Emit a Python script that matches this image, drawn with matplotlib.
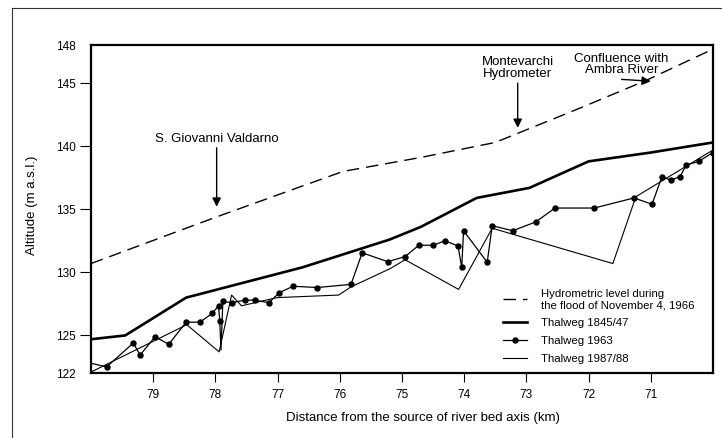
import matplotlib
matplotlib.use("Agg")
import matplotlib.pyplot as plt
from matplotlib.lines import Line2D

plt.rcParams['font.family'] = ['Liberation Sans', 'DejaVu Sans']

# river profile of the Arno between S. Giovanni Valdarno and the Ambra confluence
# distance from the source (km) / altitude (m a.s.l.)
flood_km = [80.0, 77.98, 75.95, 74.71, 73.5, 73.15, 72.1, 71.06, 70.0]
flood_alt = [130.7, 134.4, 138.0, 139.1, 140.3, 141.0, 143.1, 145.25, 147.7]

t1845_km = [80.0, 79.45, 78.47, 76.6, 75.2, 74.7, 73.8, 72.95, 72.0, 71.0, 70.0]
t1845_alt = [124.7, 125.0, 128.0, 130.4, 132.6, 133.6, 135.9, 136.7, 138.8, 139.5, 140.3]

t1963_km = [80.0, 79.75, 79.32, 79.21, 78.97, 78.75, 78.47, 78.25, 78.05, 77.95,
            77.93, 77.91, 77.88, 77.74, 77.52, 77.37, 77.14, 76.97, 76.75, 76.36,
            75.82, 75.64, 75.23, 74.95, 74.73, 74.50, 74.31, 74.10, 74.04, 74.01,
            73.63, 73.55, 73.22, 72.85, 72.54, 71.91, 71.27, 70.98, 70.82, 70.68,
            70.53, 70.43, 70.23, 70.0]
t1963_alt = [122.8, 122.5, 124.4, 123.45, 124.9, 124.3, 126.05, 126.05, 126.75, 127.35,
             126.15, 123.85, 127.7, 127.6, 127.8, 127.8, 127.6, 128.4, 128.9, 128.8,
             129.05, 131.55, 130.85, 131.25, 132.15, 132.15, 132.5, 132.1, 130.4, 133.3,
             130.8, 133.7, 133.3, 134.0, 135.1, 135.1, 135.9, 135.4, 137.6, 137.3,
             137.6, 138.5, 138.8, 139.5]

t1987_km = [80.0, 78.46, 77.94, 77.74, 77.58, 77.01, 76.02, 75.82, 75.19, 74.95,
            74.09, 73.55, 71.61, 71.24, 70.0]
t1987_alt = [122.1, 125.85, 123.7, 128.2, 127.35, 128.0, 128.2, 128.85, 130.3, 131.0,
             128.65, 133.5, 130.7, 136.0, 139.7]

x_ticks = [79, 78, 77, 76, 75, 74, 73, 72, 71]
y_ticks = [122, 125, 130, 135, 140, 145, 148]

W, H = 722, 438
fig = plt.figure(figsize=(W / 100, H / 100), dpi=100)

# outer frame of the original figure (cropped on the right and bottom)
fig.add_artist(Line2D([12 / W, 12 / W], [0, 1 - 8 / H], color='#333333', lw=0.8,
                      transform=fig.transFigure))
fig.add_artist(Line2D([12 / W, 1], [1 - 8 / H, 1 - 8 / H], color='#333333', lw=0.8,
                      transform=fig.transFigure))

ax = fig.add_axes([91 / W, 1 - 373.3 / H, (713 - 91) / W, (373.3 - 45.3) / H])

ax.plot(flood_km, flood_alt, color='black', lw=1.0, dashes=(9, 5),
        label='Hydrometric level during\nthe flood of November 4, 1966')
ax.plot(t1845_km, t1845_alt, color='black', lw=1.9, label='Thalweg 1845/47')
dots = [i for i in range(len(t1963_km)) if i not in (0, 11)]
ax.plot(t1963_km, t1963_alt, color='black', lw=0.9, marker='o', ms=3.6,
        markevery=dots, label='Thalweg 1963')
ax.plot(t1987_km, t1987_alt, color='black', lw=0.8, label='Thalweg 1987/88')

ax.set_xlim(80, 70)
ax.set_ylim(122, 148)
ax.set_xticks(x_ticks)
ax.set_yticks(y_ticks)
ax.tick_params(axis='both', labelsize=8.5, width=0.8, color='black')
ax.tick_params(axis='y', length=8, pad=3)
ax.tick_params(axis='x', length=6.5, pad=5)
yt = ax.yaxis.get_major_ticks()
yt[0].tick1line.set_visible(False)
yt[-1].tick1line.set_visible(False)
for s in ax.spines.values():
    s.set_linewidth(1.6)

ax.set_xlabel('Distance from the source of river bed axis (km)', fontsize=9.5)
ax.xaxis.set_label_coords(0.533, -0.117)
ax.set_ylabel('Altitude (m a.s.l.)', fontsize=9.5)
ax.yaxis.set_label_coords(-0.086, 0.513)

arrow = dict(arrowstyle='-|>', color='black', lw=1.0, mutation_scale=13,
             shrinkA=0, shrinkB=0)
ax.annotate('S. Giovanni Valdarno', xy=(77.98, 135.2), xytext=(77.98, 140.1),
            arrowprops=arrow, ha='center', va='bottom', fontsize=9.5)
ax.text(73.14, 145.25, 'Montevarchi\nHydrometer', ha='center', va='bottom',
        fontsize=9.5, linespacing=0.95)
ax.annotate('', xy=(73.14, 141.45), xytext=(73.14, 145.0), arrowprops=arrow)
ax.text(71.47, 145.55, 'Confluence with\nAmbra River', ha='center', va='bottom',
        fontsize=9.5, linespacing=0.95)
ax.annotate('', xy=(71.0, 145.15), xytext=(71.47, 145.3), arrowprops=arrow)

ax.legend(loc='upper left', bbox_to_anchor=(0.662, 0.258), frameon=False,
          fontsize=8.2, handlelength=2.1, handletextpad=1.3, borderpad=0,
          borderaxespad=0, labelspacing=0.68)

fig.savefig('out.png', dpi=100)
